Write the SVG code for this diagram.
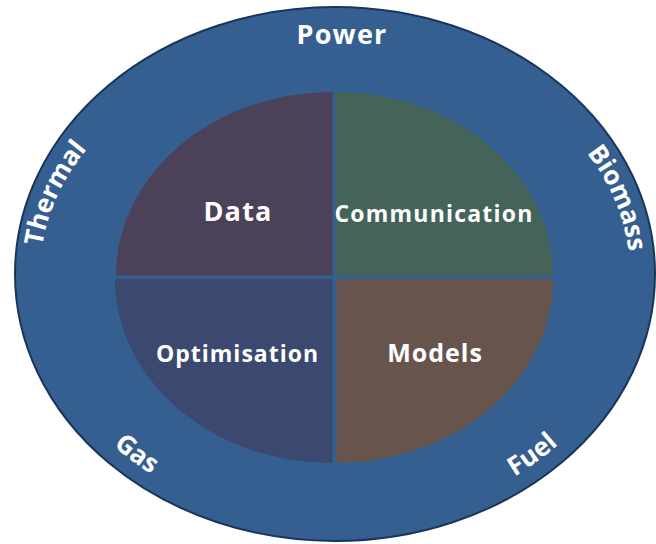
<svg xmlns="http://www.w3.org/2000/svg" xmlns:xlink="http://www.w3.org/1999/xlink" width="656" height="544" viewBox="0 0 656 544">
<style>
.lbl{font-family:"Open Sans","Noto Sans","DejaVu Sans",sans-serif;font-weight:700;fill:#ffffff}
.big{font-size:27px;letter-spacing:1.2px}
.mid{font-size:23px;letter-spacing:1px}
.ring{font-size:26px}
</style>
<defs>
<path id="upperArc" d="M 40 274 A 297 232 0 0 1 634 274"/>
<path id="rightArc" d="M 42 274 A 294 232 0 0 1 630 274"/>
<path id="lowerArc" d="M 31 274 A 304 251 0 0 0 639 274"/>
</defs>
<rect width="656" height="544" fill="#ffffff"/>
<g id="ring">
<ellipse cx="335" cy="274" rx="320" ry="267" fill="#355f91" stroke="#18365a" stroke-width="2"/>
<text class="lbl ring" text-anchor="middle"><textPath xlink:href="#upperArc" startOffset="82">Thermal</textPath></text>
<text class="lbl big" x="342" y="44" text-anchor="middle">Power</text>
<text class="lbl ring" text-anchor="middle"><textPath xlink:href="#rightArc" startOffset="752">Biomass</textPath></text>
<text class="lbl ring" text-anchor="middle"><textPath xlink:href="#lowerArc" startOffset="220">Gas</textPath></text>
<text class="lbl ring" text-anchor="middle"><textPath xlink:href="#lowerArc" startOffset="652">Fuel</textPath></text>
</g>
<g id="data">
<path d="M 332.5 275.5 H 116 A 217 183.5 0 0 1 332.5 92 Z" fill="#4b4158"/>
<text class="lbl big" x="238" y="221" text-anchor="middle">Data</text>
</g>
<g id="communication">
<path d="M 335.5 275.5 V 92 A 217 183.5 0 0 1 553 275.5 Z" fill="#44645a"/>
<text class="lbl mid" x="434" y="222" text-anchor="middle" style="letter-spacing:1.2px">Communication</text>
</g>
<g id="optimisation">
<path d="M 332.5 279 V 463 A 217 184 0 0 1 115 279 Z" fill="#3b4870"/>
<text class="lbl mid" x="237.5" y="362" text-anchor="middle">Optimisation</text>
</g>
<g id="models">
<path d="M 336.5 279 H 553 A 217 184 0 0 1 336.5 463 Z" fill="#66544d"/>
<text class="lbl mid" x="435" y="362" text-anchor="middle" style="font-size:25px">Models</text>
</g>
<g id="connectors"/>
</svg>
